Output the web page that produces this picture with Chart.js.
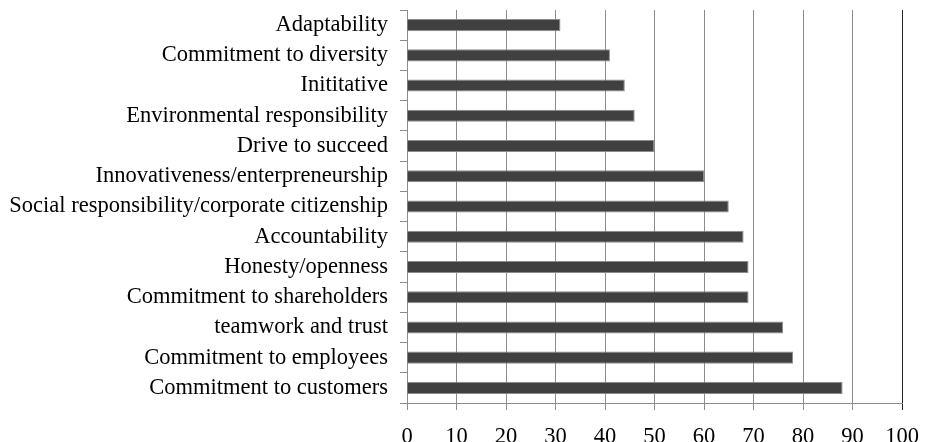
<!DOCTYPE html>
<html>
<head>
<meta charset="utf-8">
<script src="https://cdn.jsdelivr.net/npm/chart.js@4/dist/chart.umd.min.js"></script>
<style>
  html, body { margin: 0; padding: 0; background: #fff; overflow: hidden; }
  .wrap { width: 927px; height: 442px; position: relative; }
</style>
</head>
<body>
<div class="wrap"><canvas id="chart"></canvas></div>
<script>
const categories = [
  'Adaptability',
  'Commitment to diversity',
  'Inititative',
  'Environmental responsibility',
  'Drive to succeed',
  'Innovativeness/enterpreneurship',
  'Social responsibility/corporate citizenship',
  'Accountability',
  'Honesty/openness',
  'Commitment to shareholders',
  'teamwork and trust',
  'Commitment to employees',
  'Commitment to customers'
];
const values = [31, 41, 44, 46, 50, 60, 65, 68, 69, 69, 76, 78, 88];
const xTicks = [0, 10, 20, 30, 40, 50, 60, 70, 80, 90, 100];

const font = { family: "'Liberation Serif', 'Times New Roman', serif", size: 22.5 };

new Chart(document.getElementById('chart').getContext('2d'), {
  type: 'bar',
  data: {
    labels: categories,
    datasets: [{
      data: values,
      backgroundColor: '#404040',
      borderColor: '#8c8c8c',
      borderWidth: 1,
      barPercentage: 0.4,
      categoryPercentage: 1
    }]
  },
  options: {
    indexAxis: 'y',
    responsive: true,
    maintainAspectRatio: false,
    animation: false,
    layout: { padding: { top: 10, right: 25, left: 0, bottom: 0 } },
    plugins: {
      legend: { display: false },
      tooltip: { enabled: false }
    },
    scales: {
      x: {
        min: 0,
        max: 100,
        afterBuildTicks: s => { s.ticks = xTicks.map(v => ({ value: v })); },
        afterFit: s => { s.height = 39; s.paddingLeft = 0; s.paddingRight = 0; },
        border: { color: '#8c8c8c', width: 1 },
        grid: {
          color: ctx => ctx.tick && ctx.tick.value === 100 ? '#222' : '#8c8c8c',
          lineWidth: 1,
          tickLength: 7
        },
        ticks: { color: '#000', font: font, padding: 14, maxRotation: 0 }
      },
      y: {
        afterFit: s => { s.width = 407; s.paddingTop = 0; s.paddingBottom = 0; },
        border: { color: '#8c8c8c', width: 1 },
        grid: {
          drawOnChartArea: false,
          offset: true,
          color: '#8c8c8c',
          tickLength: 7
        },
        ticks: { color: '#000', font: font, padding: 12, autoSkip: false }
      }
    }
  }
});
</script>
</body>
</html>
